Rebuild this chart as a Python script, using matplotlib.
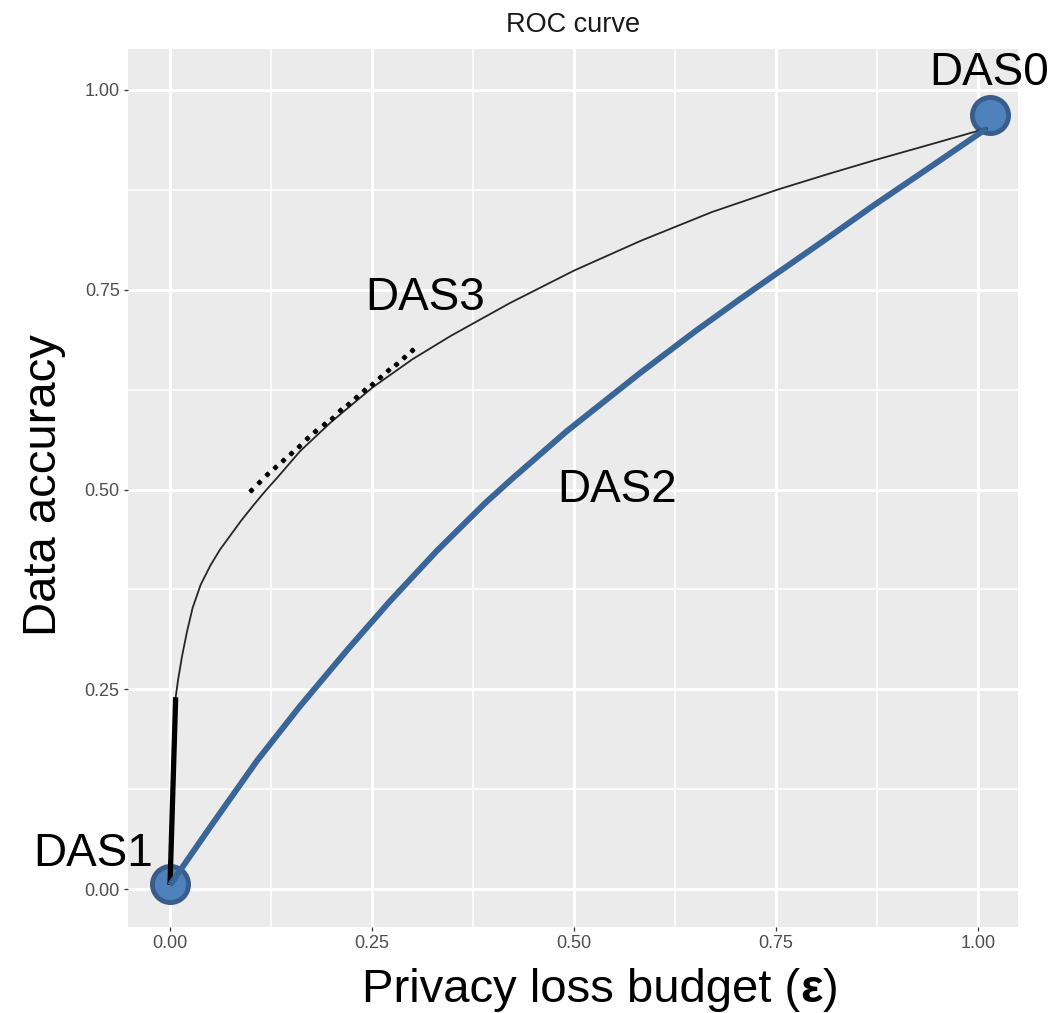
import matplotlib
matplotlib.use("Agg")
import matplotlib.pyplot as plt

plt.rcParams['font.family'] = ['Liberation Sans', 'DejaVu Sans']

# DAS3 frontier (thin curve)
das3_x = [0.007, 0.010, 0.015, 0.021, 0.028, 0.038, 0.050, 0.062, 0.075, 0.088, 0.103,
          0.117, 0.132, 0.161, 0.200, 0.251, 0.300, 0.347, 0.420, 0.500, 0.582,
          0.670, 0.751, 0.815, 0.875, 0.945, 1.011]
das3_y = [0.240, 0.262, 0.292, 0.322, 0.352, 0.381, 0.405, 0.425, 0.443, 0.461, 0.480,
          0.497, 0.514, 0.548, 0.585, 0.628, 0.663, 0.692, 0.733, 0.774, 0.811,
          0.847, 0.875, 0.895, 0.913, 0.933, 0.952]

# DAS1 jump (thick black)
das1_x = [0.000, 0.007]
das1_y = [0.005, 0.240]

# DAS2 curve (blue)
das2_x = [0.000, 0.050, 0.108, 0.161, 0.220, 0.272, 0.330, 0.390, 0.424, 0.491,
          0.582, 0.650, 0.705, 0.746, 0.810, 0.870, 0.940, 1.011]
das2_y = [0.005, 0.078, 0.161, 0.229, 0.300, 0.360, 0.423, 0.483, 0.514, 0.573,
          0.646, 0.698, 0.738, 0.767, 0.812, 0.855, 0.903, 0.952]

# dotted points along DAS3
dots_x = [0.10, 0.11, 0.12, 0.13, 0.14, 0.15, 0.16, 0.17, 0.18, 0.19, 0.20,
          0.21, 0.22, 0.23, 0.24, 0.25, 0.26, 0.27, 0.28, 0.29, 0.30]
dots_y = [0.500, 0.510, 0.519, 0.528, 0.537, 0.546, 0.555, 0.564, 0.573, 0.582, 0.590,
          0.599, 0.607, 0.616, 0.624, 0.632, 0.641, 0.649, 0.657, 0.666, 0.675]

# end points DAS1 / DAS0
end_x = [0.000, 1.015]
end_y = [0.006, 0.969]

ticks = [0.0, 0.25, 0.5, 0.75, 1.0]
tick_labels = ['0.00', '0.25', '0.50', '0.75', '1.00']

W, H = 1056, 1013
fig = plt.figure(figsize=(W / 100, H / 100), dpi=100)
ax = fig.add_axes([128 / W, 1 - 927 / H, (1018 - 128) / W, (927 - 49) / H])

ax.set_facecolor('#EBEBEB')
for s in ax.spines.values():
    s.set_visible(False)
ax.set_xlim(-0.052, 1.0495)
ax.set_ylim(-0.0475, 1.0513)
ax.set_xticks(ticks)
ax.set_xticklabels(tick_labels)
ax.set_yticks(ticks)
ax.set_yticklabels(tick_labels)
ax.set_xticks([0.125, 0.375, 0.625, 0.875], minor=True)
ax.set_yticks([0.125, 0.375, 0.625, 0.875], minor=True)
ax.grid(True, which='major', color='white', lw=2.2)
ax.grid(True, which='minor', color='white', lw=1.1)
ax.set_axisbelow(True)
ax.tick_params(which='major', length=3, width=0.9, color='#333333',
               labelsize=13, labelcolor='#4D4D4D', pad=3)
ax.tick_params(which='minor', length=0)

ax.plot(end_x, end_y, 'o', ms=26, mfc='#4F81BD', mec='#385D8A', mew=3.5,
        zorder=3, clip_on=False)
ax.plot(das3_x, das3_y, color='#262626', lw=1.3, zorder=4)
ax.plot(das1_x, das1_y, color='black', lw=3.8, zorder=4, solid_capstyle='butt')
ax.plot(das2_x, das2_y, color='#3A6598', lw=4.3, zorder=5, solid_capstyle='butt')
ax.plot(dots_x, dots_y, 'D', ms=2.4, color='black', zorder=6)

lab = dict(fontsize=33, color='black', ha='center', va='baseline')
ax.text(1.014, 1.006, 'DAS0', **lab)
ax.text(-0.095, 0.029, 'DAS1', **lab)
ax.text(0.553, 0.484, 'DAS2', **lab)
ax.text(0.316, 0.725, 'DAS3', **lab)

fig.text(573 / W, 1 - 25 / H, 'ROC curve', ha='center', va='center',
         fontsize=19.5, color='#1A1A1A')

fig.text(44 / W, 1 - 485 / H, 'Data accuracy', rotation=90, ha='center',
         va='center', fontsize=34)

# x label with bold epsilon
r = fig.canvas.get_renderer()
base = 1 - 1002 / H
t1 = fig.text(362 / W, base, 'Privacy loss budget (', ha='left', va='baseline', fontsize=34)
x1 = t1.get_window_extent(r).x1
t2 = fig.text(x1 / W, base, '\u03b5', ha='left', va='baseline', fontsize=34,
              fontweight='bold')
x2 = t2.get_window_extent(r).x1
fig.text(x2 / W, base, ')', ha='left', va='baseline', fontsize=34)

fig.savefig('out.png', dpi=100)
